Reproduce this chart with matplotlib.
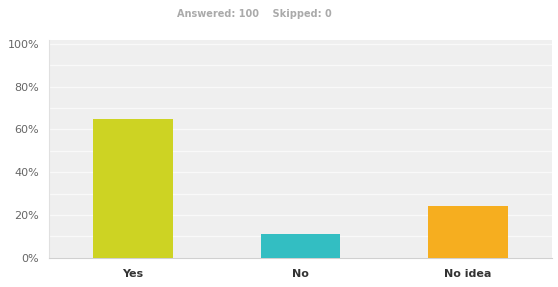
import matplotlib
matplotlib.use("Agg")
import matplotlib.pyplot as plt
from matplotlib.ticker import FuncFormatter, MultipleLocator

categories = ["Yes", "No", "No idea"]
values = [65, 11, 24]
colors = ["#cdd323", "#33bec2", "#f6ae1f"]
header = "Answered: 100    Skipped: 0"

fig = plt.figure(figsize=(5.58, 2.87), dpi=100)
ax = fig.add_axes([49/558, 1 - 257.7/287, 503/558, 218/287])
ax.set_facecolor("#efefef")
x = range(len(categories))
ax.bar(x, values, width=0.476, color=colors, zorder=3)
ax.set_xlim(-0.5, 2.5)
ax.set_ylim(0, 102)
ax.set_yticks([0, 20, 40, 60, 80, 100])
ax.set_yticks([10, 30, 50, 70, 90], minor=True)
ax.yaxis.set_major_formatter(FuncFormatter(lambda v, p: f"{int(v)}%"))
ax.grid(axis="y", which="both", color="#f9f9f9", linewidth=1.0, zorder=1)
ax.set_xticks(list(x))
ax.set_xticklabels(categories, fontsize=8, fontweight="bold", color="#333333")
ax.tick_params(axis="x", length=0, pad=8)
ax.tick_params(axis="y", which="both", length=0, labelsize=8, labelcolor="#666666", pad=7)
for s in ["top", "right"]:
    ax.spines[s].set_visible(False)
ax.spines["left"].set_color("#e0e0e0")
ax.spines["bottom"].set_color("#d0d0d0")
fig.text(254/558, 1 - 14/287, header, ha="center", va="center", fontsize=7,
         fontweight="bold", color="#aaaaaa")
fig.savefig("out.png", dpi=100)
